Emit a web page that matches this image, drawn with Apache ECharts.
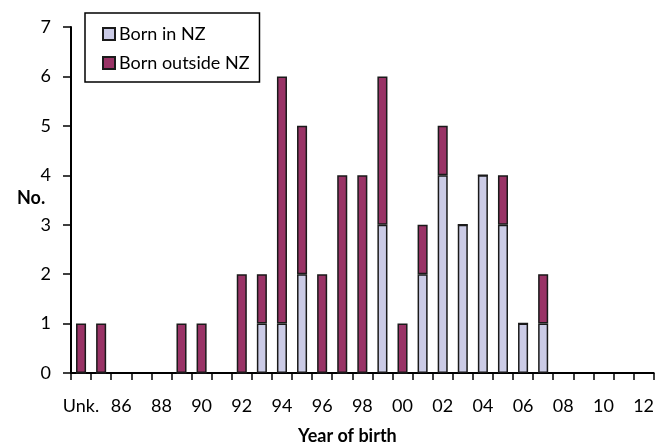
<!DOCTYPE html>
<html>
<head>
<meta charset="utf-8">
<script src="https://cdn.jsdelivr.net/npm/echarts@6/dist/echarts.min.js"></script>
<style>
  html, body { margin: 0; padding: 0; background: #fff; }
  #chart { width: 657px; height: 445px; }
</style>
</head>
<body>
<div id="chart"></div>
<script>
// Year-of-birth categories (two-digit years, plus unknown)
const categories = ['Unk.', '85', '86', '87', '88', '89', '90', '91', '92', '93', '94', '95', '96', '97', '98', '99',
  '00', '01', '02', '03', '04', '05', '06', '07', '08', '09', '10', '11', '12'];

// Counts per year; '-' means no cases that year
const bornInNZ = [0, 0, '-', '-', '-', 0, 0, '-', 0, 1, 1, 2, 0, 0, 0, 3,
  0, 2, 4, 3, 4, 3, 1, 1, '-', '-', '-', '-', '-'];
const bornOutsideNZ = [1, 1, '-', '-', '-', 1, 1, '-', 2, 1, 5, 3, 2, 4, 4, 3,
  1, 1, 1, 0, 0, 1, 0, 1, '-', '-', '-', '-', '-'];

const yTicks = [0, 1, 2, 3, 4, 5, 6, 7];

const FONT = 'Lato, "Open Sans", sans-serif';
const chart = echarts.init(document.getElementById('chart'), null, { renderer: 'canvas' });

const barStyle = (color) => ({ color: color, borderColor: '#1a1a1a', borderWidth: 1.5 });

chart.setOption({
  animation: false,
  backgroundColor: '#ffffff',
  grid: { left: 71, right: 0, top: 27, bottom: 72 },
  legend: {
    orient: 'vertical',
    left: 85, top: 13,
    padding: [12, 10, 10, 17],
    itemGap: 11,
    itemWidth: 12, itemHeight: 12,
    borderColor: '#000', borderWidth: 1.5,
    backgroundColor: '#fff',
    textStyle: { fontFamily: FONT, fontSize: 18, color: '#000', padding: [0, 0, 0, -1] },
    data: [
      { name: 'Born in NZ', icon: 'rect' },
      { name: 'Born outside NZ', icon: 'rect' }
    ]
  },
  xAxis: {
    type: 'category',
    data: categories,
    axisLine: { lineStyle: { color: '#000', width: 2 } },
    axisTick: { show: true, interval: 0, length: 7, lineStyle: { color: '#000', width: 1.5 } },
    axisLabel: {
      interval: 1,
      margin: 24,
      fontFamily: FONT, fontSize: 18, color: '#000'
    }
  },
  yAxis: {
    type: 'value',
    min: yTicks[0], max: yTicks[yTicks.length - 1], interval: 1,
    splitLine: { show: false },
    axisLine: { show: true, lineStyle: { color: '#000', width: 2 } },
    axisTick: { show: true, length: 8, lineStyle: { color: '#000', width: 1.5 } },
    axisLabel: { margin: 20, fontFamily: FONT, fontSize: 18, color: '#000' }
  },
  graphic: [
    { type: 'text', left: 17, top: 189,
      style: { text: 'No.', font: 'bold 18px ' + FONT, fill: '#000' } },
    { type: 'text', left: 298, top: 427,
      style: { text: 'Year of birth', font: 'bold 18px ' + FONT, fill: '#000' } }
  ],
  series: [
    {
      name: 'Born in NZ', type: 'bar', stack: 'total',
      barWidth: '50%',
      itemStyle: barStyle('#cbcbe6'),
      data: bornInNZ
    },
    {
      name: 'Born outside NZ', type: 'bar', stack: 'total',
      barWidth: '50%',
      itemStyle: barStyle('#993366'),
      data: bornOutsideNZ
    }
  ]
});
</script>
</body>
</html>
